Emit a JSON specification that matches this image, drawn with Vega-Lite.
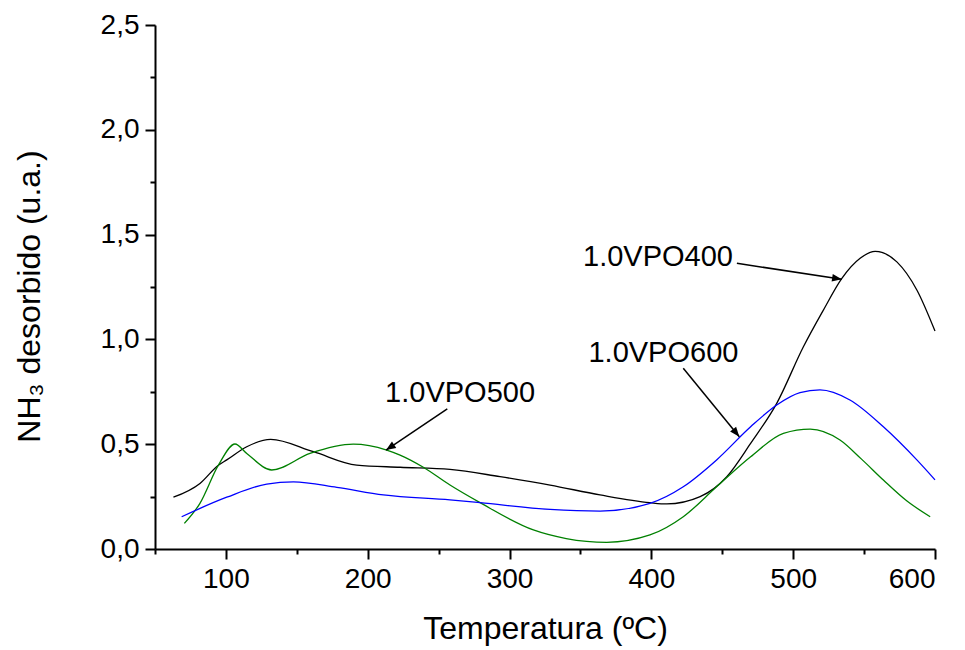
{
  "$schema": "https://vega.github.io/schema/vega-lite/v6.json",
  "width": 780,
  "height": 524,
  "autosize": {"type": "none"},
  "padding": {"left": 155, "top": 25, "right": 30, "bottom": 101},
  "background": "white",
  "config": {
    "view": {"stroke": null},
    "font": "Liberation Sans",
    "axis": {
      "grid": false,
      "domainColor": "black",
      "domainWidth": 2,
      "tickColor": "black",
      "tickWidth": 2,
      "labelFont": "Liberation Sans",
      "labelFontSize": 28,
      "labelColor": "black",
      "titleFont": "Liberation Sans",
      "titleFontSize": 32,
      "titleFontWeight": "normal",
      "titleColor": "black"
    }
  },
  "datasets": {
    "curves": [
      {"serie": "1.0VPO400", "T": 63, "v": 0.247},
      {"serie": "1.0VPO400", "T": 81.7, "v": 0.313},
      {"serie": "1.0VPO400", "T": 94.7, "v": 0.4},
      {"serie": "1.0VPO400", "T": 100.6, "v": 0.425},
      {"serie": "1.0VPO400", "T": 114.7, "v": 0.488},
      {"serie": "1.0VPO400", "T": 131.6, "v": 0.523},
      {"serie": "1.0VPO400", "T": 161.7, "v": 0.464},
      {"serie": "1.0VPO400", "T": 192.2, "v": 0.4},
      {"serie": "1.0VPO400", "T": 222.8, "v": 0.39},
      {"serie": "1.0VPO400", "T": 258, "v": 0.38},
      {"serie": "1.0VPO400", "T": 293.3, "v": 0.345},
      {"serie": "1.0VPO400", "T": 328.6, "v": 0.305},
      {"serie": "1.0VPO400", "T": 363.8, "v": 0.258},
      {"serie": "1.0VPO400", "T": 399, "v": 0.221},
      {"serie": "1.0VPO400", "T": 410.9, "v": 0.215},
      {"serie": "1.0VPO400", "T": 434.4, "v": 0.25},
      {"serie": "1.0VPO400", "T": 453.2, "v": 0.345},
      {"serie": "1.0VPO400", "T": 470, "v": 0.504},
      {"serie": "1.0VPO400", "T": 488.4, "v": 0.695},
      {"serie": "1.0VPO400", "T": 507.2, "v": 0.965},
      {"serie": "1.0VPO400", "T": 521.3, "v": 1.14},
      {"serie": "1.0VPO400", "T": 534.2, "v": 1.29},
      {"serie": "1.0VPO400", "T": 547.2, "v": 1.387},
      {"serie": "1.0VPO400", "T": 557.8, "v": 1.42},
      {"serie": "1.0VPO400", "T": 573.1, "v": 1.37},
      {"serie": "1.0VPO400", "T": 587.2, "v": 1.236},
      {"serie": "1.0VPO400", "T": 600, "v": 1.04},

      {"serie": "1.0VPO500", "T": 70.7, "v": 0.122},
      {"serie": "1.0VPO500", "T": 81.7, "v": 0.218},
      {"serie": "1.0VPO500", "T": 94.7, "v": 0.4},
      {"serie": "1.0VPO500", "T": 106.4, "v": 0.501},
      {"serie": "1.0VPO500", "T": 114.7, "v": 0.456},
      {"serie": "1.0VPO500", "T": 132.3, "v": 0.377},
      {"serie": "1.0VPO500", "T": 159.3, "v": 0.456},
      {"serie": "1.0VPO500", "T": 189.8, "v": 0.5},
      {"serie": "1.0VPO500", "T": 213.4, "v": 0.472},
      {"serie": "1.0VPO500", "T": 222.8, "v": 0.448},
      {"serie": "1.0VPO500", "T": 239.2, "v": 0.39},
      {"serie": "1.0VPO500", "T": 258, "v": 0.305},
      {"serie": "1.0VPO500", "T": 279.2, "v": 0.221},
      {"serie": "1.0VPO500", "T": 316.8, "v": 0.091},
      {"serie": "1.0VPO500", "T": 340, "v": 0.05},
      {"serie": "1.0VPO500", "T": 368.5, "v": 0.032},
      {"serie": "1.0VPO500", "T": 399, "v": 0.067},
      {"serie": "1.0VPO500", "T": 422.5, "v": 0.154},
      {"serie": "1.0VPO500", "T": 446, "v": 0.297},
      {"serie": "1.0VPO500", "T": 470, "v": 0.44},
      {"serie": "1.0VPO500", "T": 493.1, "v": 0.552},
      {"serie": "1.0VPO500", "T": 512, "v": 0.572},
      {"serie": "1.0VPO500", "T": 533, "v": 0.52},
      {"serie": "1.0VPO500", "T": 548, "v": 0.43},
      {"serie": "1.0VPO500", "T": 563.6, "v": 0.329},
      {"serie": "1.0VPO500", "T": 580, "v": 0.23},
      {"serie": "1.0VPO500", "T": 596.6, "v": 0.154},

      {"serie": "1.0VPO600", "T": 68.8, "v": 0.154},
      {"serie": "1.0VPO600", "T": 100.6, "v": 0.247},
      {"serie": "1.0VPO600", "T": 128.8, "v": 0.31},
      {"serie": "1.0VPO600", "T": 147.6, "v": 0.32},
      {"serie": "1.0VPO600", "T": 178.2, "v": 0.294},
      {"serie": "1.0VPO600", "T": 211, "v": 0.258},
      {"serie": "1.0VPO600", "T": 258, "v": 0.234},
      {"serie": "1.0VPO600", "T": 279.2, "v": 0.221},
      {"serie": "1.0VPO600", "T": 328.6, "v": 0.189},
      {"serie": "1.0VPO600", "T": 363.8, "v": 0.181},
      {"serie": "1.0VPO600", "T": 399, "v": 0.218},
      {"serie": "1.0VPO600", "T": 422.5, "v": 0.297},
      {"serie": "1.0VPO600", "T": 446, "v": 0.425},
      {"serie": "1.0VPO600", "T": 470, "v": 0.583},
      {"serie": "1.0VPO600", "T": 488.4, "v": 0.687},
      {"serie": "1.0VPO600", "T": 504.8, "v": 0.746},
      {"serie": "1.0VPO600", "T": 518.9, "v": 0.759},
      {"serie": "1.0VPO600", "T": 540, "v": 0.711},
      {"serie": "1.0VPO600", "T": 563.6, "v": 0.583},
      {"serie": "1.0VPO600", "T": 587.2, "v": 0.425},
      {"serie": "1.0VPO600", "T": 600, "v": 0.33}
    ],
    "labels": [
      {"text": "1.0VPO400", "T": 404.7, "v": 1.395},
      {"text": "1.0VPO600", "T": 408.5, "v": 0.935},
      {"text": "1.0VPO500", "T": 265.1, "v": 0.746}
    ],
    "arrows": [
      {"name": "1.0VPO400", "T": 460.3, "v": 1.363, "T2": 534.3, "v2": 1.287},
      {"name": "1.0VPO600", "T": 422.5, "v": 0.862, "T2": 462, "v2": 0.536},
      {"name": "1.0VPO500", "T": 256.1, "v": 0.668, "T2": 212.9, "v2": 0.472}
    ]
  },
  "layer": [
    {
      "data": {"name": "curves"},
      "mark": {"type": "line", "interpolate": "monotone", "strokeWidth": 1.3},
      "encoding": {
        "x": {
          "field": "T", "type": "quantitative",
          "scale": {"domain": [50, 600], "nice": false, "zero": false},
          "axis": {
            "title": "Temperatura (ºC)",
            "values": [50, 100, 150, 200, 250, 300, 350, 400, 450, 500, 550, 600],
            "labelExpr": "datum.value % 100 === 0 ? datum.label : ''",
            "tickSize": {"condition": {"test": "datum.value % 100 === 0", "value": 10}, "value": 5},
            "labelPadding": 6,
            "titlePadding": 20
          }
        },
        "y": {
          "field": "v", "type": "quantitative",
          "scale": {"domain": [0, 2.5], "nice": false},
          "axis": {
            "title": "NH₃ desorbido (u.a.)",
            "values": [0, 0.25, 0.5, 0.75, 1, 1.25, 1.5, 1.75, 2, 2.25, 2.5],
            "labelExpr": "round(datum.value * 4) % 2 === 0 ? replace(format(datum.value, '.1f'), '.', ',') : ''",
            "tickSize": {"condition": {"test": "round(datum.value * 4) % 2 === 0", "value": 10}, "value": 5},
            "labelPadding": 6,
            "titlePadding": 54,
            "titleY": 271
          }
        },
        "color": {
          "field": "serie", "type": "nominal",
          "scale": {"domain": ["1.0VPO400", "1.0VPO500", "1.0VPO600"], "range": ["#000000", "#008000", "#0000ff"]},
          "legend": null
        }
      }
    },
    {
      "data": {"name": "arrows"},
      "mark": {"type": "rule", "color": "black", "strokeWidth": 1.5},
      "encoding": {
        "x": {"field": "T", "type": "quantitative"},
        "y": {"field": "v", "type": "quantitative"},
        "x2": {"field": "T2"},
        "y2": {"field": "v2"}
      }
    },
    {
      "data": {"name": "arrows"},
      "transform": [{"filter": "datum.name === '1.0VPO400'"}],
      "mark": {"type": "point", "shape": "M0,0L-1,-0.4L-1,0.4Z", "filled": true, "color": "black", "opacity": 1, "size": 380, "angle": 8.7},
      "encoding": {
        "x": {"field": "T2", "type": "quantitative"},
        "y": {"field": "v2", "type": "quantitative"}
      }
    },
    {
      "data": {"name": "arrows"},
      "transform": [{"filter": "datum.name === '1.0VPO600'"}],
      "mark": {"type": "point", "shape": "M0,0L-1,-0.4L-1,0.4Z", "filled": true, "color": "black", "opacity": 1, "size": 380, "angle": 50.7},
      "encoding": {
        "x": {"field": "T2", "type": "quantitative"},
        "y": {"field": "v2", "type": "quantitative"}
      }
    },
    {
      "data": {"name": "arrows"},
      "transform": [{"filter": "datum.name === '1.0VPO500'"}],
      "mark": {"type": "point", "shape": "M0,0L-1,-0.4L-1,0.4Z", "filled": true, "color": "black", "opacity": 1, "size": 380, "angle": 146.2},
      "encoding": {
        "x": {"field": "T2", "type": "quantitative"},
        "y": {"field": "v2", "type": "quantitative"}
      }
    },
    {
      "data": {"name": "labels"},
      "mark": {"type": "text", "font": "Liberation Sans", "fontSize": 29, "color": "black", "align": "center", "baseline": "middle"},
      "encoding": {
        "x": {"field": "T", "type": "quantitative"},
        "y": {"field": "v", "type": "quantitative"},
        "text": {"field": "text"}
      }
    }
  ]
}
